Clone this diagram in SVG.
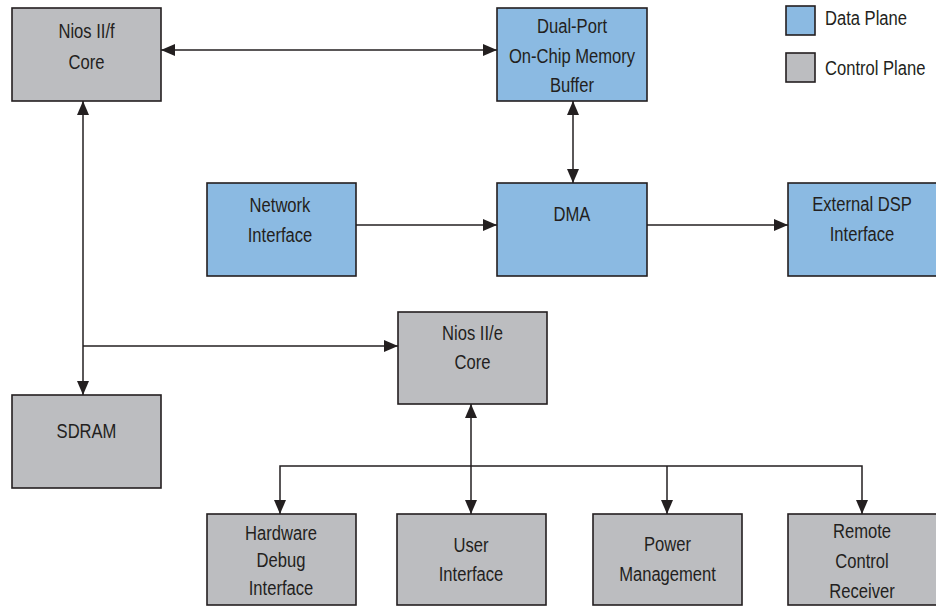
<svg xmlns="http://www.w3.org/2000/svg" width="936" height="607" viewBox="0 0 936 607">
<defs>
<style>
.ctl{fill:#bcbdc0;stroke:#231f20;stroke-width:1.6}
.dat{fill:#8bbae2;stroke:#231f20;stroke-width:1.6}
.t{font-family:"Liberation Sans",Arial,sans-serif;font-size:21px;fill:#231f20;text-anchor:middle}
.l{text-anchor:start}
.c{fill:none;stroke:#231f20;stroke-width:1.5}
</style>
<marker id="ah" viewBox="0 0 14 12" refX="14" refY="6" markerWidth="14" markerHeight="12" markerUnits="userSpaceOnUse" orient="auto-start-reverse">
<path d="M0,0 L14,6 L0,12 z" fill="#231f20"/>
</marker>
</defs>
<rect width="936" height="607" fill="#fff"/>
<g id="connectors">
<path class="c" d="M161,50 H497" marker-start="url(#ah)" marker-end="url(#ah)"/>
<path class="c" d="M573,101 V183" marker-start="url(#ah)" marker-end="url(#ah)"/>
<path class="c" d="M356,225 H497" marker-end="url(#ah)"/>
<path class="c" d="M647,225 H788" marker-end="url(#ah)"/>
<path class="c" d="M83,101 V395" marker-start="url(#ah)" marker-end="url(#ah)"/>
<path class="c" d="M83,346 H398" marker-end="url(#ah)"/>
<path class="c" d="M471,404 V514" marker-start="url(#ah)" marker-end="url(#ah)"/>
<path class="c" d="M280,514 V466 H862 V514" marker-start="url(#ah)" marker-end="url(#ah)"/>
<path class="c" d="M667,466 V514" marker-end="url(#ah)"/>
</g>
<g id="nios-f"><rect class="ctl" x="12" y="8" width="149" height="93"/><text class="t" transform="translate(86.5,37.5) scale(0.79,1)">Nios II/f</text><text class="t" transform="translate(86.5,69) scale(0.79,1)">Core</text></g>
<g id="dual-port"><rect class="dat" x="497" y="8" width="150" height="93"/><text class="t" transform="translate(572,33) scale(0.79,1)">Dual-Port</text><text class="t" transform="translate(572,63) scale(0.79,1)">On-Chip Memory</text><text class="t" transform="translate(572,92) scale(0.79,1)">Buffer</text></g>
<g id="legend-data"><rect class="dat" x="786" y="6" width="29" height="29"/><text class="t l" transform="translate(825,25) scale(0.79,1)">Data Plane</text></g>
<g id="legend-control"><rect class="ctl" x="786" y="53" width="29" height="29"/><text class="t l" transform="translate(825,75) scale(0.79,1)">Control Plane</text></g>
<g id="network"><rect class="dat" x="207" y="183" width="149" height="93"/><text class="t" transform="translate(280,212) scale(0.79,1)">Network</text><text class="t" transform="translate(280,242) scale(0.79,1)">Interface</text></g>
<g id="dma"><rect class="dat" x="497" y="183" width="150" height="93"/><text class="t" transform="translate(572,221) scale(0.79,1)">DMA</text></g>
<g id="external-dsp"><rect class="dat" x="788" y="183" width="149" height="93"/><text class="t" transform="translate(862,211) scale(0.79,1)">External DSP</text><text class="t" transform="translate(862,241) scale(0.79,1)">Interface</text></g>
<g id="nios-e"><rect class="ctl" x="398" y="312" width="149" height="92"/><text class="t" transform="translate(472.5,340) scale(0.79,1)">Nios II/e</text><text class="t" transform="translate(472.5,369) scale(0.79,1)">Core</text></g>
<g id="sdram"><rect class="ctl" x="12" y="395" width="149" height="93"/><text class="t" transform="translate(86.5,438) scale(0.79,1)">SDRAM</text></g>
<g id="hw-debug"><rect class="ctl" x="207" y="514" width="149" height="91"/><text class="t" transform="translate(281,540) scale(0.79,1)">Hardware</text><text class="t" transform="translate(281,567) scale(0.79,1)">Debug</text><text class="t" transform="translate(281,595) scale(0.79,1)">Interface</text></g>
<g id="user-if"><rect class="ctl" x="397" y="514" width="149" height="91"/><text class="t" transform="translate(471,552) scale(0.79,1)">User</text><text class="t" transform="translate(471,581) scale(0.79,1)">Interface</text></g>
<g id="power"><rect class="ctl" x="593" y="514" width="149" height="91"/><text class="t" transform="translate(667.5,551) scale(0.79,1)">Power</text><text class="t" transform="translate(667.5,581) scale(0.79,1)">Management</text></g>
<g id="remote"><rect class="ctl" x="788" y="514" width="149" height="91"/><text class="t" transform="translate(862,538) scale(0.79,1)">Remote</text><text class="t" transform="translate(862,568) scale(0.79,1)">Control</text><text class="t" transform="translate(862,598) scale(0.79,1)">Receiver</text></g>
</svg>
